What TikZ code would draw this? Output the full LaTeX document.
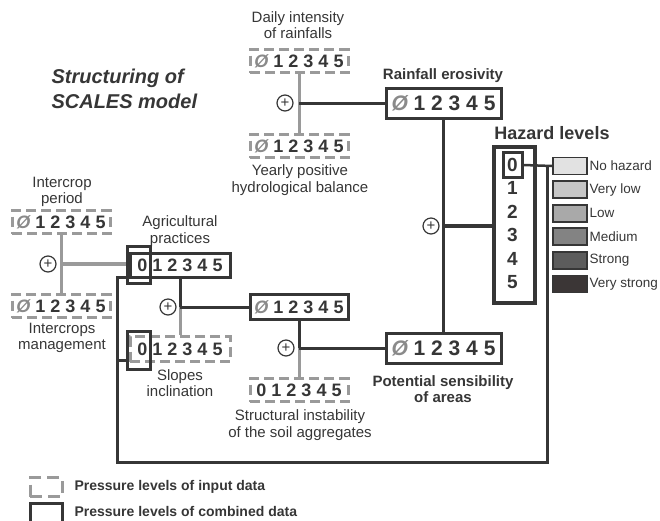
\documentclass[tikz,border=0pt]{standalone}
\usepackage{fontspec}
\setmainfont{Liberation Sans}
\usepackage{tikz}

\definecolor{dark}{HTML}{363636}
\definecolor{ingrey}{HTML}{9A9A9A}
\definecolor{nulgrey}{HTML}{8A8A8A}
\definecolor{hz0}{HTML}{E2E2E2}
\definecolor{hz1}{HTML}{C6C6C6}
\definecolor{hz2}{HTML}{A9A9A9}
\definecolor{hz3}{HTML}{838383}
\definecolor{hz4}{HTML}{5C5C5C}
\definecolor{hz5}{HTML}{3B3636}

\newcommand{\nul}{{\color{nulgrey}\itshape Ø}}
\newcommand{\lvls}[1]{#1 1 2 3 4 5}

\tikzset{
  inbox/.style={draw=ingrey,line width=3pt,dash pattern=on 10pt off 5pt,
    minimum width=98pt,minimum height=23pt,inner sep=0,text=dark,
    font=\bfseries\fontsize{18}{18}\selectfont},
  combox/.style={inbox,draw=dark,solid},
  bigbox/.style={combox,minimum width=115pt,minimum height=30pt,
    font=\bfseries\fontsize{21}{21}\selectfont},
  zerobox/.style={draw=dark,line width=3pt,inner sep=0,minimum width=23pt},
  lbl/.style={align=center,text=dark,font=\fontsize{15}{16.5}\selectfont},
  blbl/.style={lbl,font=\bfseries\fontsize{15}{16.5}\selectfont},
  plus/.style={circle,draw=dark,line width=1.2pt,minimum size=16pt,inner sep=0,
    text=dark,font=\fontsize{15}{15}\selectfont},
  link/.style={draw=dark,line width=3pt},
  inlink/.style={draw=ingrey,line width=3pt},
  hzd/.style={text=dark,inner sep=0,font=\bfseries\fontsize{19}{19}\selectfont},
  swatch/.style={draw=dark,line width=1.8pt,minimum width=34pt,minimum height=17pt,inner sep=0},
}

\begin{document}
\begin{tikzpicture}[x=1pt,y=-1pt]
\useasboundingbox (0,0) rectangle (660,520);

% title
\node[anchor=west,align=left,text=dark,font=\bfseries\itshape\fontsize{20}{25}\selectfont] (title) at (48,89) {Structuring of\\SCALES model};

% rainfall branch
\node[lbl] (dailyT) at (298,25) {Daily intensity\\of rainfalls};
\node[inbox] (daily) at (299,61) {\lvls{\nul}};
\node[inbox] (yearly) at (299,146) {\lvls{\nul}};
\node[lbl] (yearlyT) at (300,180) {Yearly positive\\hydrological balance};
\node[plus] (plus1) at (285,103) {+};
\node[blbl] (rainT) at (443,76) {Rainfall erosivity};
\node[bigbox] (rain) at (443.5,103) {\lvls{\nul}};

% hazard
\node[blbl,font=\bfseries\fontsize{18}{18}\selectfont] (hazT) at (552,133) {Hazard levels};
\node[draw=dark,line width=4.5pt,minimum width=41pt,minimum height=156pt,inner sep=0] (haz) at (514.5,225) {};
\node[hzd,draw=dark,line width=3pt,minimum width=19pt,minimum height=25pt] (haz0) at (512.5,165) {0};
\foreach \d in {1,...,5}
  \node[hzd] (haz\d) at (512.5,{165+23.4*\d}) {\d};
\node[plus] (plus2) at (431,226) {+};
\node[bigbox] (pot) at (443.5,348) {\lvls{\nul}};
\node[blbl] (potT) at (443,389) {Potential sensibility\\of areas};

% legend of hazard levels
\foreach \c/\t [count=\i from 0] in {hz0/No hazard,hz1/Very low,hz2/Low,hz3/Medium,hz4/Strong,hz5/Very strong}{
  \node[swatch,fill=\c] (sw\i) at (570,{166+23.6*\i}) {};
  \node[anchor=west,inner sep=0,text=dark,font=\fontsize{13.5}{13.5}\selectfont] (swT\i) at (589.5,{166+23.6*\i}) {\t};
}

% agricultural branch
\node[lbl] (icT) at (62,192) {Intercrop\\period};
\node[inbox] (ic) at (61,222) {\lvls{\nul}};
\node[inbox] (im) at (61,306) {\lvls{\nul}};
\node[lbl] (imT) at (62,338) {Intercrops\\management};
\node[plus] (plus3) at (48,264) {+};
\node[lbl] (agT) at (180,231) {Agricultural\\practices};
\node[combox,minimum width=100pt,minimum height=24pt] (ag) at (180,265) {\lvls{0}};
\node[zerobox,minimum height=37pt] (ag0) at (138.5,264.5) {};
\node[plus] (plus4) at (168,307) {+};
\node[inbox,minimum width=100pt,minimum height=25pt] (sl) at (180,349) {\lvls{0}};
\node[zerobox,minimum height=38pt] (sl0) at (138.5,350) {};
\node[lbl] (slT) at (180,383) {Slopes\\inclination};
\node[combox,minimum height=25pt] (mid) at (299,307) {\lvls{\nul}};
\node[plus] (plus5) at (286,348) {+};
\node[inbox] (st) at (299,390) {\lvls{0}};
\node[lbl] (stT) at (300,425) {Structural instability\\of the soil aggregates};

% connectors
\draw[inlink] (daily) -- (yearly);
\draw[link] (plus1 -| daily.south) -- (rain.west);
\draw[link] (rain) -- (pot);
\draw[link,line width=3.5pt] (plus2 -| rain.south) -- (haz.west |- plus2);
\draw[inlink] (ic) -- (im);
\draw[inlink,line width=4pt] (plus3 -| ic.south) -- (ag0.west |- plus3);
\draw[link] (ag.south) -- (plus4 -| ag.south);
\draw[inlink] (plus4 -| ag.south) -- (sl.north);
\draw[link] (plus4 -| ag.south) -- (mid.west |- plus4);
\draw[link] (mid.south) -- (plus5 -| mid.south);
\draw[inlink] (plus5 -| mid.south) -- (st.north);
\draw[link] (plus5 -| mid.south) -- (pot.west |- plus5);

% feedback of hazard to practices and slopes
\coordinate (fb1) at (547,165);
\coordinate (fb2) at (547,462);
\coordinate (fb3) at (117,462);
\draw[link,line width=2.5pt] (haz0.east) -- (sw0.west);
\draw[link] (fb1) -- (fb2) -- (fb3) |- ([yshift=-12.5pt]ag0.west);
\draw[link] (fb3 |- sl0.west) ++(0,10) -- ([yshift=-10pt]sl0.west);

% legend of boxes
\node[inbox,minimum width=32pt,minimum height=19pt,dash pattern=on 12pt off 6pt] (keyin) at (46,487) {};
\node[anchor=west,text=dark,font=\bfseries\fontsize{14}{14}\selectfont] (keyinT) at (71,487) {Pressure levels of input data};
\node[combox,minimum width=32pt,minimum height=22pt] (keycom) at (46,514) {};
\node[anchor=west,text=dark,font=\bfseries\fontsize{14}{14}\selectfont] (keycomT) at (71,511) {Pressure levels of combined data};
\end{tikzpicture}
\end{document}
